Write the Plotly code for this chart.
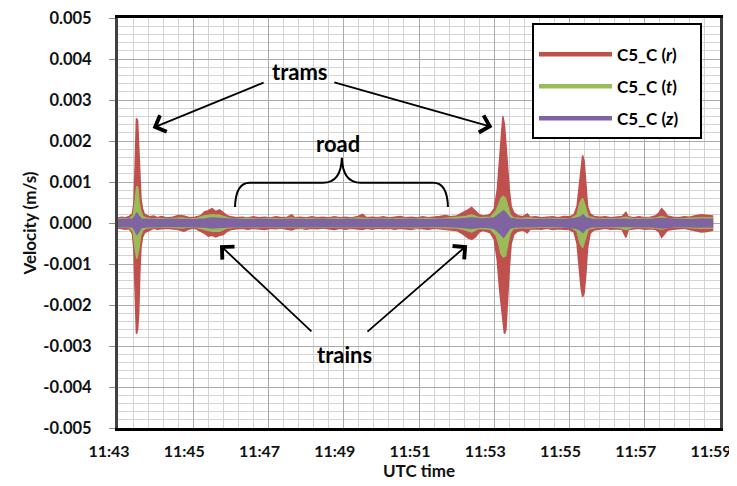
import plotly.graph_objects as go

# ---------------- data (minutes after 11:00, velocity envelopes in m/s) ----------------
series_names = ["C5_C (<i>r</i>)", "C5_C (<i>t</i>)", "C5_C (<i>z</i>)"]
series_colors = ["#C0504D", "#9BBB59", "#8064A2"]

r_minutes = [43.00, 43.10, 43.20, 43.30, 43.38, 43.42, 43.45, 43.47, 43.49, 43.52, 43.55, 43.58,
             43.61, 43.65, 43.70, 43.78, 43.85, 43.95, 44.05, 44.15, 44.30, 44.45, 44.60, 44.75,
             44.90, 45.05, 45.20, 45.30, 45.40, 45.50, 45.60, 45.70, 45.80, 45.90, 46.00, 46.15,
             46.30, 46.45, 46.60, 46.75, 46.90, 47.05, 47.20, 47.35, 47.50, 47.62, 47.70, 47.85,
             48.00, 48.15, 48.30, 48.45, 48.60, 48.75, 48.90, 49.05, 49.20, 49.35, 49.50, 49.60,
             49.75, 49.90, 50.05, 50.20, 50.35, 50.50, 50.65, 50.80, 50.95, 51.10, 51.25, 51.40,
             51.55, 51.70, 51.85, 52.00, 52.15, 52.30, 52.40, 52.50, 52.60, 52.70, 52.80, 52.90,
             53.00, 53.08, 53.14, 53.19, 53.23, 53.27, 53.31, 53.35, 53.40, 53.45, 53.52, 53.62,
             53.75, 53.88, 53.95, 54.10, 54.25, 54.40, 54.55, 54.70, 54.85, 55.00, 55.12, 55.20,
             55.26, 55.31, 55.35, 55.39, 55.43, 55.48, 55.55, 55.65, 55.80, 55.95, 56.10, 56.25,
             56.40, 56.50, 56.56, 56.70, 56.85, 57.00, 57.15, 57.30, 57.38, 57.45, 57.52, 57.60,
             57.75, 57.90, 58.05, 58.20, 58.35, 58.50, 58.65, 58.80]
r_upper = [0.00012, 0.00014, 0.00013, 0.00016, 0.00022, 0.00045, 0.0012, 0.0021, 0.00255, 0.0025, 0.0017, 0.0011,
           0.0006, 0.00035, 0.00022, 0.00018, 0.00015, 0.00017, 0.00013, 0.00016, 0.00012, 0.00014, 0.00018, 0.00017,
           0.00013, 0.00014, 0.00018, 0.00027, 0.0003, 0.00035, 0.00028, 0.00032, 0.00025, 0.00018, 0.00015, 0.00013,
           0.00014, 0.00012, 0.00015, 0.00013, 0.00014, 0.00012, 0.00015, 0.00013, 0.00014, 0.0002, 0.00013, 0.00014,
           0.00012, 0.00015, 0.00013, 0.00014, 0.00012, 0.00015, 0.00013, 0.00014, 0.00012, 0.00015, 0.00021, 0.00013,
           0.00014, 0.00013, 0.00015, 0.00012, 0.00014, 0.00016, 0.00013, 0.00014, 0.00012, 0.00015, 0.00013, 0.00014,
           0.00016, 0.00018, 0.00015, 0.00017, 0.00024, 0.00032, 0.00038, 0.0003, 0.0002, 0.00017, 0.00018, 0.00022,
           0.00035, 0.0008, 0.0015, 0.0021, 0.0026, 0.0024, 0.0019, 0.0014, 0.0008, 0.0004, 0.00025, 0.00018,
           0.00015, 0.00022, 0.00014, 0.00015, 0.00013, 0.00014, 0.00015, 0.00013, 0.00016, 0.00015, 0.0002, 0.0004,
           0.0009, 0.0014, 0.00165, 0.0015, 0.0009, 0.0004, 0.00022, 0.00016, 0.00014, 0.00015, 0.00013, 0.00014,
           0.00016, 0.00026, 0.00015, 0.00013, 0.00015, 0.00013, 0.00014, 0.00018, 0.00025, 0.00035, 0.00028, 0.00017,
           0.00014, 0.00013, 0.00015, 0.00014, 0.00018, 0.0002, 0.00019, 0.00017]
r_lower = [-0.00012, -0.00013, -0.00015, -0.00014, -0.00025, -0.0006, -0.0012, -0.0019, -0.0027, -0.0026, -0.0022, -0.0012,
           -0.0006, -0.00035, -0.00025, -0.0002, -0.00016, -0.00013, -0.00015, -0.00014, -0.00013, -0.00014, -0.00016, -0.0002,
           -0.00014, -0.00013, -0.0002, -0.00025, -0.00032, -0.0003, -0.00034, -0.0003, -0.00028, -0.0002, -0.00016, -0.00014,
           -0.00013, -0.00015, -0.00013, -0.00014, -0.00016, -0.00013, -0.00014, -0.00012, -0.00015, -0.00017, -0.00014, -0.00013,
           -0.00015, -0.00013, -0.00014, -0.00012, -0.00014, -0.00016, -0.00013, -0.00015, -0.00013, -0.00014, -0.00016, -0.00013,
           -0.00015, -0.00012, -0.00014, -0.00013, -0.00015, -0.00013, -0.00014, -0.00016, -0.00013, -0.00014, -0.00015, -0.00013,
           -0.00015, -0.00016, -0.00017, -0.00018, -0.00026, -0.00036, -0.0004, -0.00034, -0.00022, -0.00018, -0.0002, -0.00024,
           -0.0004, -0.0009, -0.0016, -0.0021, -0.0024, -0.0027, -0.0026, -0.0018, -0.0011, -0.0005, -0.00028, -0.0002,
           -0.00017, -0.00024, -0.00015, -0.00014, -0.00015, -0.00013, -0.00016, -0.00014, -0.00015, -0.00016, -0.00022, -0.0005,
           -0.0011, -0.0016, -0.0018, -0.0017, -0.0013, -0.0006, -0.00025, -0.00017, -0.00015, -0.00013, -0.00015, -0.00014,
           -0.00016, -0.00035, -0.00016, -0.00014, -0.00013, -0.00015, -0.00014, -0.00016, -0.00022, -0.00035, -0.00026, -0.00018,
           -0.00015, -0.00014, -0.00013, -0.00015, -0.00019, -0.00022, -0.00021, -0.00018]

t_minutes = [43.00, 43.15, 43.30, 43.40, 43.44, 43.47, 43.50, 43.53, 43.56, 43.60, 43.66, 43.75,
             43.90, 44.10, 44.30, 44.50, 44.70, 44.90, 45.10, 45.30, 45.50, 45.70, 45.90, 46.10,
             46.40, 46.70, 47.00, 47.30, 47.60, 47.90, 48.20, 48.50, 48.80, 49.10, 49.40, 49.70,
             50.00, 50.30, 50.60, 50.90, 51.20, 51.50, 51.80, 52.00, 52.20, 52.40, 52.60, 52.90,
             53.05, 53.12, 53.18, 53.24, 53.30, 53.36, 53.42, 53.50, 53.70, 53.90, 54.20, 54.50,
             54.80, 55.05, 55.20, 55.28, 55.35, 55.42, 55.50, 55.70, 56.00, 56.30, 56.50, 56.70,
             57.00, 57.30, 57.45, 57.60, 57.90, 58.20, 58.50, 58.80]
t_upper = [0.0001, 0.00011, 0.0001, 0.00018, 0.0004, 0.0007, 0.0009, 0.00085, 0.0005, 0.0003, 0.00016, 0.00012,
           0.0001, 0.00011, 0.0001, 0.00011, 0.00012, 0.0001, 0.00011, 0.00018, 0.0002, 0.00019, 0.00013, 0.0001,
           0.00011, 0.0001, 0.00011, 0.0001, 0.00012, 0.0001, 0.00011, 0.0001, 0.00011, 0.0001, 0.00012, 0.0001,
           0.00011, 0.0001, 0.00011, 0.0001, 0.00011, 0.0001, 0.00012, 0.00012, 0.00015, 0.0002, 0.00013, 0.00014,
           0.0003, 0.00045, 0.0006, 0.00065, 0.0006, 0.0004, 0.0002, 0.00013, 0.00011, 0.00012, 0.0001, 0.00011,
           0.0001, 0.00011, 0.0002, 0.0005, 0.0006, 0.0004, 0.00015, 0.00011, 0.0001, 0.00011, 0.00014, 0.0001,
           0.00011, 0.00012, 0.00016, 0.00011, 0.0001, 0.00011, 0.00013, 0.00012]
t_lower = [-0.0001, -0.0001, -0.00011, -0.0002, -0.0004, -0.0007, -0.00087, -0.0008, -0.0006, -0.0003, -0.00017, -0.00012,
           -0.00011, -0.0001, -0.0001, -0.00011, -0.00012, -0.0001, -0.00011, -0.00016, -0.0002, -0.0002, -0.00012, -0.0001,
           -0.0001, -0.00011, -0.0001, -0.00011, -0.0001, -0.00012, -0.0001, -0.00011, -0.0001, -0.00011, -0.0001, -0.00011,
           -0.0001, -0.00011, -0.0001, -0.00012, -0.0001, -0.00011, -0.00012, -0.00012, -0.00016, -0.00022, -0.00013, -0.00015,
           -0.0003, -0.0005, -0.00075, -0.00083, -0.0008, -0.0005, -0.00025, -0.00014, -0.00011, -0.00012, -0.0001, -0.00011,
           -0.0001, -0.00011, -0.0002, -0.0005, -0.0006, -0.0004, -0.00015, -0.00011, -0.0001, -0.00011, -0.00016, -0.0001,
           -0.00011, -0.00012, -0.00015, -0.00011, -0.0001, -0.00011, -0.00013, -0.00012]

z_minutes = [43.00, 43.20, 43.40, 43.46, 43.50, 43.55, 43.62, 43.80, 44.10, 44.40, 44.70, 45.00,
             45.30, 45.50, 45.70, 46.00, 46.40, 46.80, 47.20, 47.60, 48.00, 48.40, 48.80, 49.20,
             49.60, 50.00, 50.40, 50.80, 51.20, 51.60, 52.00, 52.40, 52.70, 53.00, 53.15, 53.25,
             53.33, 53.42, 53.60, 54.00, 54.40, 54.80, 55.15, 55.30, 55.36, 55.43, 55.60, 56.00,
             56.40, 56.80, 57.20, 57.45, 57.80, 58.20, 58.50, 58.80]
z_upper = [0.00008, 0.00009, 0.0001, 0.00018, 0.00024, 0.00018, 0.0001, 0.00009, 0.00008, 0.00009, 0.00009, 0.00008,
           0.0001, 0.00012, 0.00011, 0.00009, 0.00008, 0.00009, 0.00008, 0.00009, 0.00008, 0.00009, 0.00008, 0.00009,
           0.00008, 0.00009, 0.00008, 0.00009, 0.00008, 0.00009, 0.00009, 0.00012, 0.0001, 0.00012, 0.00022, 0.0003,
           0.00022, 0.00011, 0.00009, 0.00008, 0.00009, 0.00008, 0.00011, 0.00015, 0.0002, 0.00013, 0.00009, 0.00008,
           0.00009, 0.00008, 0.00009, 0.00011, 0.00009, 0.00008, 0.0001, 0.00009]
z_lower = [-0.00009, -0.00009, -0.0001, -0.0002, -0.00028, -0.0002, -0.00011, -0.00009, -0.00009, -0.00008, -0.00009, -0.00009,
           -0.0001, -0.00012, -0.00011, -0.00009, -0.00009, -0.00008, -0.00009, -0.00009, -0.00008, -0.00009, -0.00009, -0.00008,
           -0.00009, -0.00009, -0.00008, -0.00009, -0.00009, -0.00008, -0.0001, -0.00013, -0.0001, -0.00013, -0.00025, -0.00035,
           -0.00026, -0.00012, -0.00009, -0.00009, -0.00008, -0.00009, -0.00012, -0.00018, -0.00023, -0.00014, -0.00009, -0.00009,
           -0.00008, -0.00009, -0.00009, -0.00012, -0.00009, -0.00009, -0.0001, -0.00009]

x_tick_minutes = [43, 45, 47, 49, 51, 53, 55, 57, 59]
x_tick_labels = ["11:43", "11:45", "11:47", "11:49", "11:51", "11:53", "11:55", "11:57", "11:59"]
y_tick_values = [-0.005, -0.004, -0.003, -0.002, -0.001, 0.0, 0.001, 0.002, 0.003, 0.004, 0.005]
y_tick_labels = ["-0.005", "-0.004", "-0.003", "-0.002", "-0.001", "0.000",
                 "0.001", "0.002", "0.003", "0.004", "0.005"]

# ---------------- figure ----------------
FONT = "Lato"
TXT = "#111111"
fig = go.Figure()

envelopes = [(r_minutes, r_upper, r_lower), (t_minutes, t_upper, t_lower), (z_minutes, z_upper, z_lower)]
for (mins, hi, lo), name, col in zip(envelopes, series_names, series_colors):
    fig.add_trace(go.Scatter(
        x=list(mins) + list(mins)[::-1],
        y=list(hi) + list(lo)[::-1],
        fill="toself", fillcolor=col, mode="lines",
        line=dict(color=col, width=1.5),
        showlegend=False, hoverinfo="skip"))

for i, (name, col) in enumerate(zip(series_names, series_colors)):
    fig.add_trace(go.Scatter(
        x=[None], y=[None], mode="lines", name=name + "\u00a0\u00a0\u00a0\u00a0",
        line=dict(color=col, width=4.5), legendgroup=f"g{i}"))

black = "black"
ann_font = dict(family=FONT, size=22, color=black, weight="bold")
annotations = [
    dict(x=47.84, y=0.00370, text="trams", showarrow=False, font=ann_font),
    dict(x=48.85, y=0.00195, text="road", showarrow=False, font=ann_font),
    dict(x=49.03, y=-0.00320, text="trains", showarrow=False, font=ann_font),
]
arrows = [
    ((43.92, 0.00232), (46.91, 0.00344)),
    ((52.95, 0.00234), (48.71, 0.00344)),
    ((45.71, -0.00054), (48.18, -0.00268)),
    ((52.28, -0.00054), (49.59, -0.00268)),
]
for (hx, hy), (tx, ty) in arrows:
    annotations.append(dict(x=hx, y=hy, ax=tx, ay=ty, xref="x", yref="y", axref="x", ayref="y",
                            text="", showarrow=True, arrowhead=4, arrowsize=1.9,
                            arrowwidth=1.8, arrowcolor=black))

brace = ("M 46.11,0.00039 Q 46.13,0.00098 46.50,0.00098 L 48.45,0.00098 "
         "Q 48.93,0.00098 48.95,0.00159 Q 48.97,0.00098 49.45,0.00098 "
         "L 51.38,0.00098 Q 51.75,0.00098 51.77,0.00039")

# the page body adds an 8 px offset, so the figure is 8 px smaller on each axis
fig.update_layout(
    width=729, height=478,
    margin=dict(l=110, r=17, t=10, b=58),
    paper_bgcolor="white", plot_bgcolor="white",
    font=dict(family=FONT, color=TXT),
    annotations=annotations,
    shapes=[dict(type="path", path=brace, xref="x", yref="y",
                 line=dict(color=black, width=2))],
    legend=dict(x=0.6877, y=0.988, xanchor="left", yanchor="top",
                bgcolor="white", bordercolor=black, borderwidth=2,
                font=dict(family=FONT, size=17, color=black, weight="bold"),
                title=dict(text="\u00a0", font=dict(size=9)),
                tracegroupgap=7, itemwidth=73),
    xaxis=dict(
        range=[43, 59], tickmode="array", tickvals=x_tick_minutes, ticktext=x_tick_labels,
        tickfont=dict(family=FONT, size=16, color=TXT, weight="bold"),
        ticks="", ticklabelstandoff=7, ticklabelshift=-9, ticklabeloverflow="allow", automargin=False,
        showgrid=True, gridcolor="#ABABAB", gridwidth=1,
        minor=dict(tickmode="linear", tick0=43, dtick=0.4, showgrid=True,
                   gridcolor="#D3D3D3", gridwidth=1),
        showline=True, linecolor=black, linewidth=2.5, mirror=True, zeroline=False,
        title=dict(text="UTC time", font=dict(family=FONT, size=17, color=TXT, weight="bold"),
                   standoff=2),
    ),
    yaxis=dict(
        range=[-0.005, 0.005], tickmode="array", tickvals=y_tick_values, ticktext=y_tick_labels,
        tickfont=dict(family=FONT, size=16.5, color=TXT, weight="bold"),
        ticks="outside", ticklen=6, tickcolor="#8c8c8c", tickwidth=1,
        ticklabelstandoff=14, ticklabeloverflow="allow", automargin=False,
        showgrid=True, gridcolor="#ABABAB", gridwidth=1,
        minor=dict(tickmode="linear", tick0=-0.005, dtick=0.0002, showgrid=True,
                   gridcolor="#D3D3D3", gridwidth=1),
        showline=True, linecolor="#404040", linewidth=3, mirror=True, zeroline=False,
        title=dict(text="Velocity (m/s)", font=dict(family=FONT, size=17, color=TXT, weight="bold"),
                   standoff=3),
    ),
)

fig.write_html("out.html")
